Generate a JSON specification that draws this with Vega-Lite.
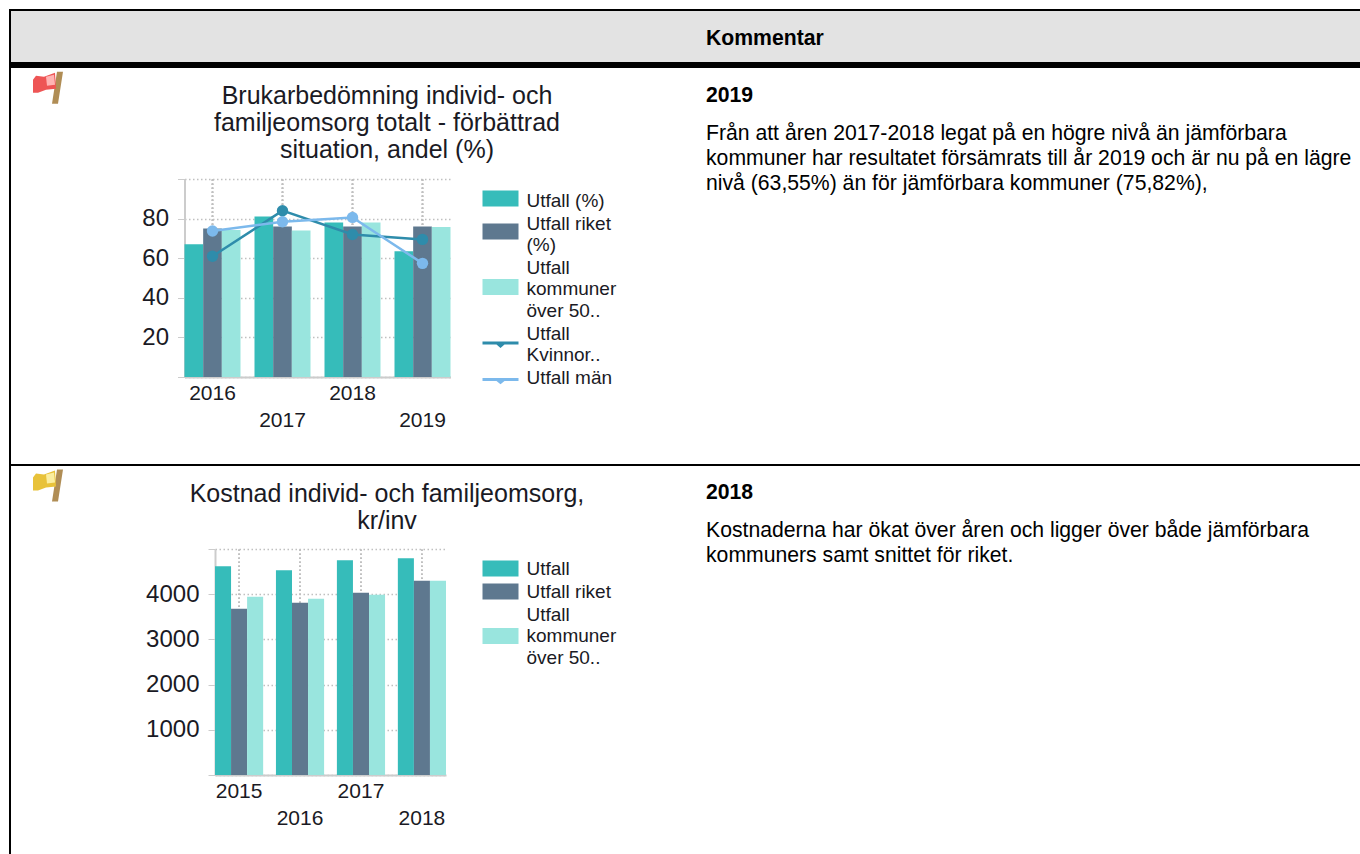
{"$schema":"https://vega.github.io/schema/vega-lite/v6.json","padding":{"left":9,"top":9,"right":0,"bottom":0},"background":"#ffffff","bounds":"flush","spacing":0,"align":"each","columns":4,"config":{"view":{"stroke":null},"font":"Liberation Sans"},
"resolve":{"scale":{"color":"independent","xOffset":"independent"},"legend":{"color":"independent"}},
"concat":[
{"width":2,"height":2,"data":{"values":[{"cell":"frame"}]},"mark":{"type":"rect","color":"#000000"},"encoding":{}},
{"width":74,"height":2,"data":{"values":[{"cell":"frame"}]},"mark":{"type":"rect","color":"#000000"},"encoding":{}},
{"width":621,"height":2,"data":{"values":[{"cell":"frame"}]},"mark":{"type":"rect","color":"#000000"},"encoding":{}},
{"width":654,"height":2,"data":{"values":[{"cell":"frame"}]},"mark":{"type":"rect","color":"#000000"},"encoding":{}},

{"width":2,"height":51,"data":{"values":[{"cell":"frame"}]},"mark":{"type":"rect","color":"#000000"},"encoding":{}},
{"width":74,"height":51,"data":{"values":[{"cell":"head"}]},"mark":{"type":"rect","color":"#e3e3e3"},"encoding":{}},
{"width":621,"height":51,"data":{"values":[{"cell":"head"}]},"mark":{"type":"rect","color":"#e3e3e3"},"encoding":{}},
{"width":654,"height":51,"data":{"values":[{"text":"Kommentar"}]},"layer":[
 {"mark":{"type":"rect","color":"#e3e3e3"},"encoding":{}},
 {"mark":{"type":"text","align":"left","baseline":"middle","font":"Liberation Sans","fontWeight":"bold","fontSize":21.2,"color":"#000000"},"encoding":{"x":{"datum":0,"scale":{"domain":[0,1]},"axis":null},"y":{"datum":0.55,"scale":{"domain":[0,1],"reverse":true},"axis":null},"text":{"field":"text"}}}
]},

{"width":2,"height":6,"data":{"values":[{"cell":"frame"}]},"mark":{"type":"rect","color":"#000000"},"encoding":{}},
{"width":74,"height":6,"data":{"values":[{"cell":"frame"}]},"mark":{"type":"rect","color":"#000000"},"encoding":{}},
{"width":621,"height":6,"data":{"values":[{"cell":"frame"}]},"mark":{"type":"rect","color":"#000000"},"encoding":{}},
{"width":654,"height":6,"data":{"values":[{"cell":"frame"}]},"mark":{"type":"rect","color":"#000000"},"encoding":{}},

{"width":2,"height":396,"data":{"values":[{"cell":"frame"}]},"mark":{"type":"rect","color":"#000000"},"encoding":{}},
{"width":74,"height":396,"data":{"values":[{"flag":"red"}]},"encoding":{"y":{"datum":0.05,"scale":{"domain":[0,1],"reverse":true},"axis":null}},"layer":[
 {"mark":{"type":"point","filled":true,"opacity":1,"size":4,"color":"#b08d55","shape":"M9,-16 L15,-16 L10,16 L4,16 Z"}},
 {"mark":{"type":"point","filled":true,"opacity":1,"size":4,"color":"#ee5555","shape":"M-15,-8 L-12,-12 L-4,-11 L7,-15 L8,1 L-2,2 L-10,5 L-15,5 Z"}},
 {"mark":{"type":"point","filled":true,"opacity":1,"size":4,"color":"#ffb4b4","shape":"M-2,-11 L6,-13 L7,-3 L-1,-2 Z"}}
]},
{"width":621,"height":396,
 "title":{"text":["Brukarbedömning individ- och","familjeomsorg totalt   - förbättrad","situation, andel (%)"],"font":"Liberation Sans","fontSize":25,"fontWeight":"normal","color":"#1a1a24","lineHeight":27,"anchor":"middle","dx":-8.5,"offset":-95},
 "data":{"values":[
  {"year":"2016","serie":"Utfall (%)","value":67},{"year":"2017","serie":"Utfall (%)","value":81},{"year":"2018","serie":"Utfall (%)","value":78},{"year":"2019","serie":"Utfall (%)","value":63.55},
  {"year":"2016","serie":"Utfall riket (%)","value":75},{"year":"2017","serie":"Utfall riket (%)","value":76},{"year":"2018","serie":"Utfall riket (%)","value":76},{"year":"2019","serie":"Utfall riket (%)","value":76},
  {"year":"2016","serie":"Utfall kommuner över 50..","value":74.3},{"year":"2017","serie":"Utfall kommuner över 50..","value":74},{"year":"2018","serie":"Utfall kommuner över 50..","value":78},{"year":"2019","serie":"Utfall kommuner över 50..","value":75.82},
  {"year":"2016","serie":"Utfall Kvinnor..","value":61},{"year":"2017","serie":"Utfall Kvinnor..","value":84},{"year":"2018","serie":"Utfall Kvinnor..","value":72},{"year":"2019","serie":"Utfall Kvinnor..","value":69.5},
  {"year":"2016","serie":"Utfall män","value":73.7},{"year":"2017","serie":"Utfall män","value":78.4},{"year":"2018","serie":"Utfall män","value":80.6},{"year":"2019","serie":"Utfall män","value":57.4}
 ]},
 "encoding":{
  "x":{"field":"year","type":"ordinal","title":null,"scale":{"range":[99.5,365.5],"paddingInner":0.2,"paddingOuter":0},"axis":{"offset":-87,"domainColor":"#cccccc","domainWidth":2,"ticks":false,"labelAngle":0,"labelFont":"Liberation Sans","labelFontSize":21,"labelColor":"#1a1a24","labelBaseline":"top","labelPadding":5,"labelLineHeight":27,"labelOverlap":false,"labelExpr":"(datum.value=='2017'||datum.value=='2019')?['',datum.label]:datum.label","grid":false}},
  "y":{"field":"value","type":"quantitative","title":null,"scale":{"domain":[0,100],"range":[309,111],"nice":false},"axis":{"offset":-99.5,"values":[0,20,40,60,80,100],"domainColor":"#cccccc","domainWidth":2,"tickColor":"#cccccc","tickSize":7,"labelFont":"Liberation Sans","labelFontSize":24,"labelColor":"#1a1a24","labelPadding":9,"labelExpr":"datum.value>0&&datum.value<100?datum.label:''","labelOverlap":false,"grid":true,"gridColor":"#c0c0c0","gridDash":[1.5,2.5],"gridWidth":1.5}},
  "color":{"field":"serie","type":"nominal","scale":{"domain":["Utfall (%)","Utfall riket (%)","Utfall kommuner över 50..","Utfall Kvinnor..","Utfall män"],"range":["#36bcba","#5e788f","#99e5de","#2e8cab","#7cb9ec"]},"legend":{"orient":"none","legendX":392,"legendY":123,"title":null,"symbolType":"M-4.5,-2H4.5V2H-4.5Z","symbolSize":64,"symbolOffset":14,"labelOffset":16.5,"labelFont":"Liberation Sans","labelFontSize":19,"labelColor":"#1a1a24","labelLimit":0,"rowPadding":3,"symbolStrokeWidth":0,"symbolOpacity":1,"labelExpr":"datum.label=='Utfall riket (%)'?['Utfall riket','(%)']:datum.label=='Utfall kommuner över 50..'?['Utfall','kommuner','över  50..']:datum.label=='Utfall Kvinnor..'?['Utfall','Kvinnor..']:datum.label","encode":{"symbols":{"update":{"shape":{"signal":"datum.value=='Utfall Kvinnor..'?'M-4.5,2.0H4.5V2.75H-4.5Z M-1,2.75H1L0,3.6Z':datum.value=='Utfall män'?'M-4.5,0.15H4.5V0.85H-4.5Z M-1,0.85H1L0,1.7Z':datum.value=='Utfall riket (%)'?'M-4.5,0H4.5V4H-4.5Z':datum.value=='Utfall kommuner över 50..'?'M-4.5,2.875H4.5V6.875H-4.5Z':'M-4.5,-2.5H4.5V1.5H-4.5Z'"}}},"labels":{"update":{"lineHeight":{"value":21.5}}}}}}
 },
 "layer":[
  {"mark":{"type":"rule","strokeDash":[1.5,2.5],"strokeWidth":1.5,"color":"#c0c0c0"},"encoding":{"y":{"datum":0},"y2":{"datum":100},"color":{"value":"#c0c0c0"}}},
  {"transform":[{"filter":"datum.serie=='Utfall (%)'||datum.serie=='Utfall riket (%)'||datum.serie=='Utfall kommuner över 50..'"}],"mark":{"type":"bar","opacity":1},"encoding":{"xOffset":{"field":"serie","type":"nominal","scale":{"domain":["Utfall (%)","Utfall riket (%)","Utfall kommuner över 50.."]}}}},
  {"transform":[{"filter":"datum.serie=='Utfall Kvinnor..'||datum.serie=='Utfall män'"}],"mark":{"type":"line","strokeWidth":2.5,"interpolate":"linear"}},
  {"transform":[{"filter":"datum.serie=='Utfall Kvinnor..'||datum.serie=='Utfall män'"}],"mark":{"type":"point","filled":true,"opacity":1,"size":130}}
 ]},
{"width":654,"height":396,"data":{"values":[{"line":0,"text":"2019","kind":"head"},{"line":1,"text":"Från att åren 2017-2018 legat på en högre nivå än jämförbara","kind":"body"},{"line":2,"text":"kommuner har resultatet försämrats till år 2019 och är nu på en lägre","kind":"body"},{"line":3,"text":"nivå (63,55%) än för jämförbara kommuner (75,82%),","kind":"body"}]},
 "encoding":{"x":{"datum":0,"scale":{"domain":[0,1]},"axis":null},"y":{"field":"line","type":"quantitative","scale":{"domain":[0,1,2,3],"range":[28,66,91,116]},"axis":null},"text":{"field":"text"}},
 "layer":[
  {"transform":[{"filter":"datum.kind=='head'"}],"mark":{"type":"text","align":"left","baseline":"middle","font":"Liberation Sans","fontWeight":"bold","fontSize":21.2,"color":"#000000"}},
  {"transform":[{"filter":"datum.kind=='body'"}],"mark":{"type":"text","align":"left","baseline":"middle","font":"Liberation Sans","fontSize":21.2,"color":"#000000"}}
 ]},

{"width":2,"height":2,"data":{"values":[{"cell":"frame"}]},"mark":{"type":"rect","color":"#000000"},"encoding":{}},
{"width":74,"height":2,"data":{"values":[{"cell":"frame"}]},"mark":{"type":"rect","color":"#000000"},"encoding":{}},
{"width":621,"height":2,"data":{"values":[{"cell":"frame"}]},"mark":{"type":"rect","color":"#000000"},"encoding":{}},
{"width":654,"height":2,"data":{"values":[{"cell":"frame"}]},"mark":{"type":"rect","color":"#000000"},"encoding":{}},

{"width":2,"height":388,"data":{"values":[{"cell":"frame"}]},"mark":{"type":"rect","color":"#000000"},"encoding":{}},
{"width":74,"height":388,"data":{"values":[{"flag":"yellow"}]},"encoding":{"y":{"datum":0.05,"scale":{"domain":[0,1],"reverse":true},"axis":null}},"layer":[
 {"mark":{"type":"point","filled":true,"opacity":1,"size":4,"color":"#b08d55","shape":"M9,-16 L15,-16 L10,16 L4,16 Z"}},
 {"mark":{"type":"point","filled":true,"opacity":1,"size":4,"color":"#e8c23a","shape":"M-15,-8 L-12,-12 L-4,-11 L7,-15 L8,1 L-2,2 L-10,5 L-15,5 Z"}},
 {"mark":{"type":"point","filled":true,"opacity":1,"size":4,"color":"#fbeea0","shape":"M-2,-11 L6,-13 L7,-3 L-1,-2 Z"}}
]},
{"width":621,"height":388,
 "title":{"text":["Kostnad individ- och familjeomsorg,","kr/inv"],"font":"Liberation Sans","fontSize":25,"fontWeight":"normal","color":"#1a1a24","lineHeight":27,"anchor":"middle","dx":-8.5,"offset":-68},
 "data":{"values":[
  {"year":"2015","serie":"Utfall","value":4617},{"year":"2016","serie":"Utfall","value":4528},{"year":"2017","serie":"Utfall","value":4750},{"year":"2018","serie":"Utfall","value":4794},
  {"year":"2015","serie":"Utfall riket","value":3680},{"year":"2016","serie":"Utfall riket","value":3812},{"year":"2017","serie":"Utfall riket","value":4033},{"year":"2018","serie":"Utfall riket","value":4299},
  {"year":"2015","serie":"Utfall kommuner över 50..","value":3945},{"year":"2016","serie":"Utfall kommuner över 50..","value":3900},{"year":"2017","serie":"Utfall kommuner över 50..","value":3989},{"year":"2018","serie":"Utfall kommuner över 50..","value":4299}
 ]},
 "encoding":{
  "x":{"field":"year","type":"ordinal","title":null,"scale":{"range":[130,361],"paddingInner":0.21,"paddingOuter":0},"axis":{"offset":-79,"domainColor":"#cccccc","domainWidth":2,"ticks":false,"labelAngle":0,"labelFont":"Liberation Sans","labelFontSize":21,"labelColor":"#1a1a24","labelBaseline":"top","labelPadding":5,"labelLineHeight":27,"labelOverlap":false,"labelExpr":"(datum.value=='2016'||datum.value=='2018')?['',datum.label]:datum.label","grid":false}},
  "y":{"field":"value","type":"quantitative","title":null,"scale":{"domain":[0,5000],"range":[309,83],"nice":false},"axis":{"offset":-130,"values":[0,1000,2000,3000,4000,5000],"domainColor":"#cccccc","domainWidth":2,"tickColor":"#cccccc","tickSize":7,"format":"d","labelFont":"Liberation Sans","labelFontSize":24,"labelColor":"#1a1a24","labelPadding":9,"labelExpr":"datum.value>0&&datum.value<5000?datum.label:''","labelOverlap":false,"grid":true,"gridColor":"#c0c0c0","gridDash":[1.5,2.5],"gridWidth":1.5}},
  "color":{"field":"serie","type":"nominal","scale":{"domain":["Utfall","Utfall riket","Utfall kommuner över 50.."],"range":["#36bcba","#5e788f","#99e5de"]},"legend":{"orient":"none","legendX":392,"legendY":93,"title":null,"symbolType":"M-4.5,-2H4.5V2H-4.5Z","symbolSize":64,"symbolOffset":14,"labelOffset":16.5,"labelFont":"Liberation Sans","labelFontSize":19,"labelColor":"#1a1a24","labelLimit":0,"rowPadding":3,"symbolStrokeWidth":0,"symbolOpacity":1,"labelExpr":"datum.label=='Utfall kommuner över 50..'?['Utfall','kommuner','över  50..']:datum.label","encode":{"symbols":{"update":{"shape":{"signal":"datum.value=='Utfall kommuner över 50..'?'M-4.5,3.375H4.5V7.375H-4.5Z':'M-4.5,-2H4.5V2H-4.5Z'"}}},"labels":{"update":{"lineHeight":{"value":21.5}}}}}}
 },
 "layer":[
  {"mark":{"type":"rule","strokeDash":[1.5,2.5],"strokeWidth":1.5,"color":"#c0c0c0"},"encoding":{"y":{"datum":0},"y2":{"datum":5000},"color":{"value":"#c0c0c0"}}},
  {"mark":{"type":"bar","opacity":1},"encoding":{"xOffset":{"field":"serie","type":"nominal","scale":{"domain":["Utfall","Utfall riket","Utfall kommuner över 50.."]}}}}
 ]},
{"width":654,"height":388,"data":{"values":[{"line":0,"text":"2018","kind":"head"},{"line":1,"text":"Kostnaderna har ökat över åren och ligger över både jämförbara","kind":"body"},{"line":2,"text":"kommuners samt snittet för riket.","kind":"body"}]},
 "encoding":{"x":{"datum":0,"scale":{"domain":[0,1]},"axis":null},"y":{"field":"line","type":"quantitative","scale":{"domain":[0,1,2],"range":[27,65,90]},"axis":null},"text":{"field":"text"}},
 "layer":[
  {"transform":[{"filter":"datum.kind=='head'"}],"mark":{"type":"text","align":"left","baseline":"middle","font":"Liberation Sans","fontWeight":"bold","fontSize":21.2,"color":"#000000"}},
  {"transform":[{"filter":"datum.kind=='body'"}],"mark":{"type":"text","align":"left","baseline":"middle","font":"Liberation Sans","fontSize":21.2,"color":"#000000"}}
 ]}
]}
